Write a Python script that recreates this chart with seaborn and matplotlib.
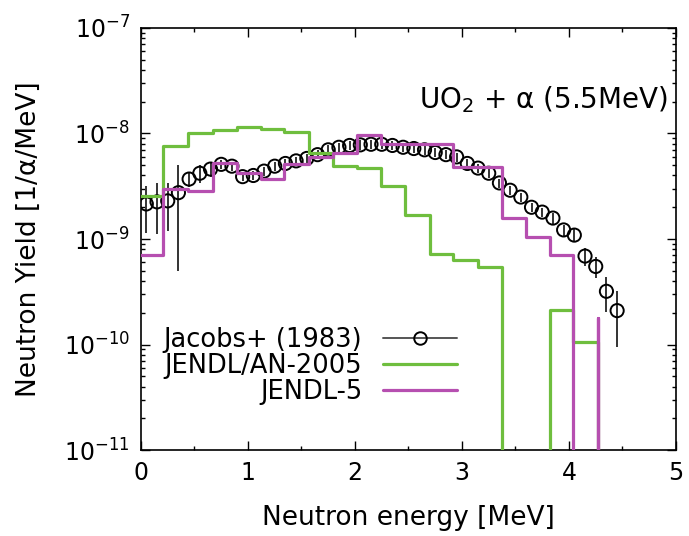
import numpy as np
import pandas as pd
import matplotlib
matplotlib.use("Agg")
import matplotlib.pyplot as plt
import seaborn as sns
from matplotlib.lines import Line2D
from matplotlib.ticker import MultipleLocator, LogLocator, NullFormatter, FixedLocator

# ---- data -------------------------------------------------------------
# Jacobs+ (1983) measurement
jacobs_energy = [0.05, 0.15, 0.25, 0.35, 0.45, 0.55, 0.65, 0.75, 0.85, 0.95,
                 1.05, 1.15, 1.25, 1.35, 1.45, 1.55, 1.65, 1.75, 1.85, 1.95,
                 2.05, 2.15, 2.25, 2.35, 2.45, 2.55, 2.65, 2.75, 2.85, 2.95,
                 3.05, 3.15, 3.25, 3.35, 3.45, 3.55, 3.65, 3.75, 3.85, 3.95,
                 4.05, 4.15, 4.25, 4.35, 4.45]
jacobs_yield = [2.15e-9, 2.25e-9, 2.3e-9, 2.75e-9, 3.7e-9, 4.2e-9, 4.6e-9, 5.1e-9, 4.9e-9, 3.9e-9,
                4.0e-9, 4.4e-9, 4.9e-9, 5.2e-9, 5.5e-9, 5.8e-9, 6.3e-9, 7.0e-9, 7.4e-9, 7.7e-9,
                7.8e-9, 7.9e-9, 7.9e-9, 7.7e-9, 7.4e-9, 7.2e-9, 7.0e-9, 6.6e-9, 6.3e-9, 6.0e-9,
                5.2e-9, 4.7e-9, 4.2e-9, 3.4e-9, 2.9e-9, 2.5e-9, 2.0e-9, 1.8e-9, 1.58e-9, 1.22e-9,
                1.09e-9, 6.9e-10, 5.5e-10, 3.2e-10, 2.1e-10]
jacobs_rel_err = [0.47, 0.50, 0.48, 0.82, 0.15, 0.20, 0.15, 0.10, 0.10, 0.10,
                  0.10, 0.10, 0.10, 0.10, 0.10, 0.10, 0.10, 0.10, 0.10, 0.10,
                  0.10, 0.10, 0.10, 0.10, 0.10, 0.10, 0.10, 0.10, 0.10, 0.10,
                  0.10, 0.10, 0.10, 0.10, 0.10, 0.10, 0.10, 0.10, 0.12, 0.12,
                  0.14, 0.20, 0.22, 0.37, 0.55]

# evaluated-data histograms (bin edges in MeV, values per bin)
bin_edges = [0.0, 0.21, 0.44, 0.67, 0.90, 1.12, 1.34, 1.57, 1.79, 2.02,
             2.24, 2.47, 2.70, 2.92, 3.15, 3.37, 3.60, 3.82, 4.04, 4.27]
jendl_an_2005 = [2.55e-9, 7.6e-9, 1.0e-8, 1.07e-8, 1.15e-8, 1.1e-8, 1.03e-8, 6.5e-9, 4.9e-9,
                 4.7e-9, 3.2e-9, 1.7e-9, 7.2e-10, 6.3e-10, 5.4e-10, 0.0, 0.0, 2.14e-10, 1.05e-10]
jendl_5 = [7.1e-10, 3.0e-9, 2.85e-9, 5.2e-9, 4.2e-9, 3.7e-9, 5.1e-9, 6.0e-9, 6.5e-9,
           9.7e-9, 7.9e-9, 7.9e-9, 7.9e-9, 4.8e-9, 4.8e-9, 1.58e-9, 1.05e-9, 7.1e-10, 0.0]
jendl_5_edge_value = [1.78e-10]   # isolated value at the last edge

y_major_ticks = [1e-11, 1e-10, 1e-9, 1e-8, 1e-7]
legend_labels = ["Jacobs+ (1983)", "JENDL/AN-2005", "JENDL-5"]
annotation = r"UO$_2$ + α (5.5MeV)"

# ---- styling ----------------------------------------------------------
sns.set_theme(style="ticks")
plt.rcParams["font.family"] = ["DejaVu Sans"]
plt.rcParams["mathtext.fontset"] = "dejavusans"
plt.rcParams["text.color"] = "black"
plt.rcParams["axes.labelcolor"] = "black"
plt.rcParams["xtick.color"] = "black"
plt.rcParams["ytick.color"] = "black"

GREEN = "#6fbe3e"
MAGENTA = "#b64fb0"
FLOOR = 1e-14  # zero bins drawn below the axis floor

fig = plt.figure(figsize=(6.89, 5.36), dpi=100)
ax = fig.add_axes([0.2046, 0.160, 0.7765, 0.788])

df_j = pd.DataFrame({"E": jacobs_energy, "Y": jacobs_yield})
yerr = np.array(jacobs_rel_err) * np.array(jacobs_yield)
ax.errorbar(jacobs_energy, jacobs_yield, yerr=yerr, fmt="none",
            ecolor="#333333", elinewidth=1.4, capsize=0, zorder=2)
sns.scatterplot(data=df_j, x="E", y="Y", ax=ax, color="black", s=90,
                marker="o", linewidth=1.4, zorder=3, legend=False)
pts = ax.collections[-1]
pts.set_facecolor("none")
pts.set_edgecolor("black")

g_y = [v if v > 0 else FLOOR for v in jendl_an_2005] + [FLOOR]
df_g = pd.DataFrame({"E": bin_edges, "Y": g_y})
sns.lineplot(data=df_g, x="E", y="Y", ax=ax, estimator=None, sort=False,
             drawstyle="steps-post", color=GREEN, lw=2.3, zorder=4)

m_x = bin_edges + [bin_edges[-1]]
m_y = [v if v > 0 else FLOOR for v in jendl_5] + jendl_5_edge_value + [FLOOR]
df_m = pd.DataFrame({"E": m_x, "Y": m_y})
sns.lineplot(data=df_m, x="E", y="Y", ax=ax, estimator=None, sort=False,
             drawstyle="steps-post", color=MAGENTA, lw=2.3, zorder=5)

ax.set_yscale("log")
ax.set_xlim(0, 5)
ax.set_ylim(1e-11, 1e-7)
ax.xaxis.set_major_locator(MultipleLocator(1))
ax.xaxis.set_minor_locator(MultipleLocator(0.5))
ax.yaxis.set_major_locator(FixedLocator(y_major_ticks))
ax.yaxis.set_minor_locator(LogLocator(base=10, subs=np.arange(2, 10), numticks=100))
ax.yaxis.set_minor_formatter(NullFormatter())
ax.tick_params(which="both", direction="in", top=True, right=True,
               colors="black", labelsize=17, width=1.0)
ax.tick_params(which="major", length=6.5, pad=8)
ax.tick_params(which="minor", length=3.2)
for s in ax.spines.values():
    s.set_linewidth(1.2)
    s.set_color("black")

ax.set_xlabel("Neutron energy [MeV]", fontsize=19, labelpad=14)
ax.set_ylabel("Neutron Yield [1/α/MeV]", fontsize=19, labelpad=16)

ax.text(0.985, 0.83, annotation, transform=ax.transAxes, ha="right",
        va="center", fontsize=20)

handles = [
    Line2D([], [], color="#555555", lw=1.4, marker="o", markersize=9,
           markerfacecolor="none", markeredgecolor="black", markeredgewidth=1.4),
    Line2D([], [], color=GREEN, lw=2.3),
    Line2D([], [], color=MAGENTA, lw=2.3),
]
ax.legend(handles, legend_labels, loc="center", bbox_to_anchor=(0.317, 0.199),
          frameon=False, markerfirst=False, fontsize=18.5, handlelength=2.9,
          handletextpad=0.8, labelspacing=0.0, borderpad=0.0, numpoints=1)

fig.savefig("out.png", dpi=100)
